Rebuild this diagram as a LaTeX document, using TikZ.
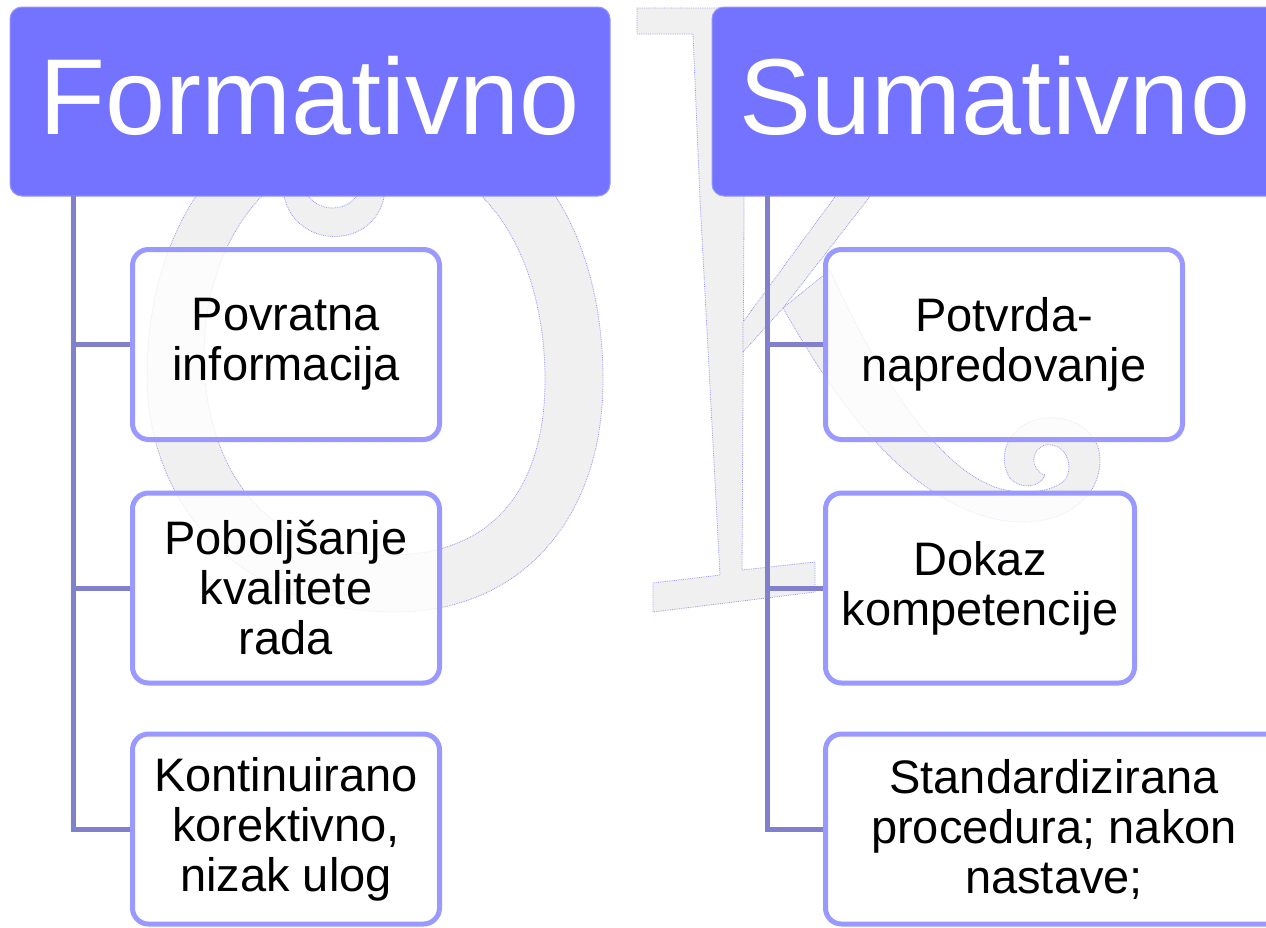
\documentclass[tikz,border=0pt]{standalone}
\usepackage{fontspec}
\setmainfont{Liberation Sans}
\usetikzlibrary{calc}
\definecolor{hdrfill}{RGB}{115,115,255}
\definecolor{hdrline}{RGB}{150,150,255}
\definecolor{trunk}{RGB}{128,128,204}
\definecolor{boxline}{RGB}{153,153,255}
\definecolor{wmline}{RGB}{150,150,240}

\begin{document}
\begin{tikzpicture}[x=1pt, y=-1pt]
    \tikzset{Head/.style={draw=hdrline, line width=1pt, fill=hdrfill,
        rounded corners=12pt, text=white, inner sep=0pt,
        font=\fontsize{108}{110}\selectfont, text depth=12pt,
        minimum height=189pt},
      Item/.style={draw=boxline, line width=5pt, fill=white,
        fill opacity=0.8, text opacity=1, rounded corners=16pt,
        align=center, inner sep=0pt, minimum height=190pt,
        font=\fontsize{47}{50}\selectfont},
      Branch/.style={draw=trunk, line width=5pt},
      Mark/.style={fill=black!6, draw=wmline, densely dotted, line width=0.8pt}}
    \useasboundingbox (0,0) rectangle (1266,927);
    % faint letters behind the diagram
    \path[Mark, even odd rule]
      (373,100) .. controls (530,100) and (603,230) .. (603,380)
        .. controls (603,520) and (520,612) .. (395,612)
        .. controls (250,612) and (160,520) .. (148,400)
        .. controls (138,250) and (215,100) .. (373,100) -- cycle
      (370,150) .. controls (480,150) and (545,250) .. (545,380)
        .. controls (545,480) and (500,555) .. (390,555)
        .. controls (270,555) and (215,480) .. (205,380)
        .. controls (195,260) and (260,150) .. (370,150) -- cycle;
    \path[Mark] (283,190) .. controls (290,252) and (380,252) .. (385,190)
      -- (360,190) .. controls (350,214) and (315,214) .. (305,190) -- cycle;
    \path[Mark] (637,8) -- (760,8) -- (760,34) -- (745,34) -- (742,570)
      -- (815,562) -- (815,592) -- (653,612) -- (653,583) -- (720,575)
      -- (700,200) -- (693,34) -- (637,34) -- cycle;
    \path[Mark] (840,190) -- (875,190) -- (783,308) -- (743,352) -- (743,322) -- cycle;
    \path[Mark] (783,308) .. controls (830,390) and (900,500) .. (1000,520)
      .. controls (1060,530) and (1100,500) .. (1100,460)
      .. controls (1100,430) and (1070,415) .. (1045,418)
      .. controls (1010,422) and (995,455) .. (1010,478)
      .. controls (1020,490) and (1040,488) .. (1045,475)
      .. controls (1030,470) and (1030,450) .. (1045,445)
      .. controls (1065,442) and (1075,465) .. (1065,480)
      .. controls (1050,495) and (1010,495) .. (990,485)
      .. controls (930,460) and (870,360) .. (830,270) -- cycle;

    \node[Head, minimum width=600pt] (form) at (310,101.5) {Formativno};
    \node[Head, minimum width=566pt] (sum) at (995,101.5) {Sumativno};

    \node[Item, minimum width=307pt] (form1) at (286,344.5) {Povratna\\informacija};
    \node[Item, minimum width=307pt] (form2) at (286,588) {Poboljšanje\\kvalitete\\rada};
    \node[Item, minimum width=307pt] (form3) at (286,829) {Kontinuirano\\korektivno,\\nizak ulog};
    \node[Item, minimum width=357pt] (sum1) at (1004,344.5) {Potvrda-\\napredovanje};
    \node[Item, minimum width=309pt] (sum2) at (980,588) {Dokaz\\kompetencije};
    \node[Item, minimum width=457pt] (sum3) at (1054,829) {Standardizirana\\procedura; nakon\\nastave;};

    \coordinate (formtop) at (73,196);
    \coordinate (sumtop) at (767,196);
    \foreach \i in {1,2,3} {
      \draw[Branch] (formtop) |- (form\i.west);
      \draw[Branch] (sumtop) |- (sum\i.west);
    }
  \end{tikzpicture}
\end{document}
